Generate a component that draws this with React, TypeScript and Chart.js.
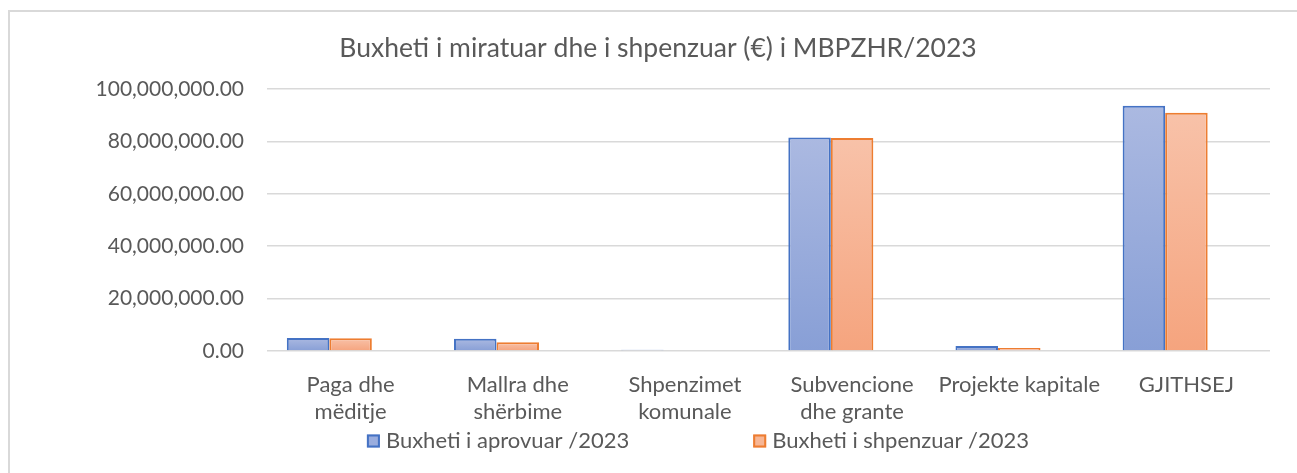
import React, { useEffect, useRef } from "react";
import { Chart, registerables } from "chart.js";

Chart.register(...registerables);

const chartTitle = "Buxheti i miratuar dhe i shpenzuar (€) i MBPZHR/2023";
const categories: (string | string[])[] = [
  ["Paga dhe", "mëditje"],
  ["Mallra dhe", "shërbime"],
  ["Shpenzimet", "komunale"],
  ["Subvencione", "dhe grante"],
  "Projekte kapitale",
  "GJITHSEJ",
];
const seriesNames = ["Buxheti i aprovuar /2023", "Buxheti i shpenzuar /2023"];
const approved = [5000000, 4700000, 500000, 81500000, 1900000, 93600000];
const spent = [4900000, 3300000, 300000, 81300000, 1100000, 90900000];
const emptySeries = [null, null, null, null, null, null];
const yMin = 0;
const yMax = 100000000;
const yStep = 20000000;

const FONT = "Lato";
const TEXT = "#595959";

const BLUE = { top: "#abb9e1", bottom: "#889fd6", border: "#4472c4", legend: "#9aadde" };
const ORANGE = { top: "#f8c2a9", bottom: "#f5a47e", border: "#ed7d31", legend: "#f7b695" };

function gradientFill(c: { top: string; bottom: string; legend: string }) {
  return (ctx: any) => {
    const chart = ctx.chart;
    const area = chart.chartArea;
    if (!area || ctx.type !== "data" || ctx.raw == null) return c.legend;
    const y = chart.scales.y;
    const y0 = y.getPixelForValue(0);
    const y1 = y.getPixelForValue(ctx.raw);
    if (!isFinite(y1) || y0 - y1 < 1) return c.legend;
    const g = chart.ctx.createLinearGradient(0, y1, 0, y0);
    g.addColorStop(0, c.top);
    g.addColorStop(1, c.bottom);
    return g;
  };
}

const legendPlugin = {
  id: "customLegend",
  afterDraw(chart: any) {
    const ctx = chart.ctx;
    ctx.save();
    ctx.font = `22px ${FONT}`;
    ctx.textBaseline = "middle";
    ctx.textAlign = "left";
    const items = [
      { text: seriesNames[0], fill: BLUE.legend, stroke: BLUE.border },
      { text: seriesNames[1], fill: ORANGE.legend, stroke: ORANGE.border },
    ];
    const box = 13;
    const gap = 6;
    const itemGap = 124;
    const widths = items.map((it) => box + gap + ctx.measureText(it.text).width);
    const total = widths[0] + widths[1] + itemGap;
    const centerX = 698;
    const cy = 441;
    let x = centerX - total / 2;
    items.forEach((it, i) => {
      ctx.fillStyle = it.fill;
      ctx.fillRect(x, cy - box / 2, box, box);
      ctx.strokeStyle = it.stroke;
      ctx.lineWidth = 2;
      ctx.strokeRect(x + 1, cy - box / 2 + 1, box - 2, box - 2);
      ctx.fillStyle = TEXT;
      ctx.fillText(it.text, x + box + gap, cy);
      x += widths[i] + itemGap;
    });
    ctx.restore();
  },
};

export default function App() {
  const ref = useRef<HTMLCanvasElement | null>(null);

  useEffect(() => {
    if (!ref.current) return;
    const chart = new Chart(ref.current, {
      type: "bar",
      data: {
        labels: categories,
        datasets: [
          {
            label: seriesNames[0],
            data: approved,
            backgroundColor: gradientFill(BLUE),
            borderColor: BLUE.border,
            borderWidth: 2,
          },
          {
            label: seriesNames[1],
            data: spent,
            backgroundColor: gradientFill(ORANGE),
            borderColor: ORANGE.border,
            borderWidth: 2,
          },
          {
            label: "",
            data: emptySeries,
            backgroundColor: "rgba(0,0,0,0)",
          },
        ],
      },
      options: {
        responsive: false,
        animation: false,
        events: [],
        layout: { padding: { left: 46, right: 27, top: 0, bottom: 49 } },
        datasets: { bar: { categoryPercentage: 0.763, barPercentage: 1 } },
        plugins: {
          legend: { display: false },
          tooltip: { enabled: false },
          title: {
            display: true,
            text: chartTitle,
            color: TEXT,
            font: { family: FONT, size: 26.5, weight: "normal", lineHeight: 1.2 },
            padding: { top: 32.1, bottom: 25 },
          },
        },
        scales: {
          x: {
            grid: { display: false, drawTicks: false },
            border: { display: false },
            ticks: {
              color: TEXT,
              padding: 21,
              maxRotation: 0,
              autoSkip: false,
              font: { family: FONT, size: 22, lineHeight: 1.2 },
            },
            afterFit: (s: any) => {
              s.height = 73;
            },
          },
          y: {
            min: yMin,
            max: yMax,
            grid: { color: "#d9d9d9", lineWidth: 1.5, drawTicks: false },
            border: { display: false },
            ticks: {
              stepSize: yStep,
              color: TEXT,
              padding: 23,
              font: { family: FONT, size: 21 },
              callback: (v: any) =>
                Number(v).toLocaleString("en-US", {
                  minimumFractionDigits: 2,
                  maximumFractionDigits: 2,
                }),
            },
            afterFit: (s: any) => {
              s.width = 221;
            },
          },
        },
      },
      plugins: [legendPlugin],
    } as any);
    return () => chart.destroy();
  }, []);

  return (
    <div
      style={{
        position: "fixed",
        left: 0,
        top: 0,
        width: 1297,
        height: 473,
        overflow: "hidden",
        background: "#ffffff",
      }}
    >
      <div
        style={{
          position: "absolute",
          left: 8,
          top: 10,
          width: 1400,
          height: 600,
          borderLeft: "2px solid #d9d9d9",
          borderTop: "2px solid #d9d9d9",
          boxSizing: "border-box",
        }}
      />
      <canvas
        ref={ref}
        width={1297}
        height={473}
        style={{ position: "absolute", left: 0, top: 0, width: 1297, height: 473 }}
      />
    </div>
  );
}
